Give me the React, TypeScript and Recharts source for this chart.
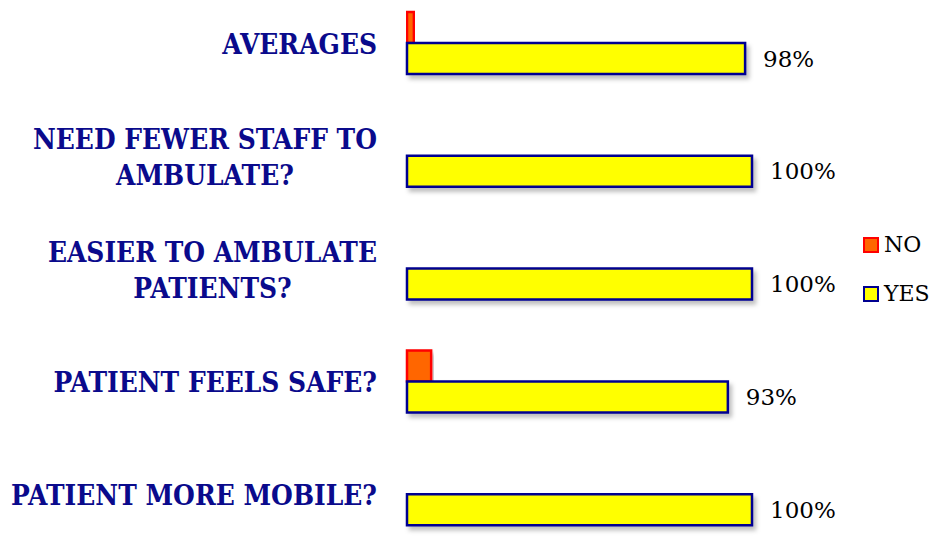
import React from "react";
import { BarChart, Bar, XAxis, YAxis, LabelList } from "recharts";

const categories = [
  "AVERAGES",
  "NEED FEWER STAFF TO|AMBULATE?",
  "EASIER TO AMBULATE|PATIENTS?",
  "PATIENT FEELS SAFE?",
  "PATIENT MORE MOBILE?",
];
const noValues = [2, 0, 0, 7, 0];
const yesValues = [98, 100, 100, 93, 100];

const data = categories.map((name, i) => ({ name, NO: noValues[i], YES: yesValues[i] }));

const LABEL_SIZE = 25;
const LABEL_FONT = `bold ${LABEL_SIZE}px 'DejaVu Serif'`;
const NAVY = "#0a0a8c";

let ctx: CanvasRenderingContext2D | null = null;
const measure = (s: string) => {
  if (!ctx) ctx = document.createElement("canvas").getContext("2d");
  if (!ctx) return s.length * 16;
  ctx.font = LABEL_FONT;
  return ctx.measureText(s).width;
};

const CategoryTick = (props: any) => {
  const { x, y, payload } = props;
  const lines: string[] = String(payload.value).split("|");
  const w = Math.max(...lines.map(measure));
  const lh = 36;
  const top = y - ((lines.length - 1) * lh) / 2;
  return (
    <g transform={`translate(0 ${y}) scale(1 1.15) translate(0 ${-y})`}>
      <text
        x={x - w / 2}
        y={top}
        textAnchor="middle"
        dominantBaseline="central"
        fill={NAVY}
        fontFamily="'DejaVu Serif', serif"
        fontWeight="bold"
        fontSize={LABEL_SIZE}
      >
        {lines.map((l, i) => (
          <tspan key={i} x={x - w / 2} y={y + (i - (lines.length - 1) / 2) * (lh / 1.15)}>
            {l}
          </tspan>
        ))}
      </text>
    </g>
  );
};

const legendItems = [
  { label: "NO", fill: "#ff6600", stroke: "#ff0000" },
  { label: "YES", fill: "#ffff00", stroke: "#000090" },
];

const ChartLegend = () => (
  <div
    style={{
      position: "absolute",
      left: 863,
      top: 220,
      fontFamily: "'DejaVu Serif', serif",
      fontSize: 22,
    }}
  >
    {legendItems.map((it) => (
      <div key={it.label} style={{ display: "flex", alignItems: "center", height: 49 }}>
        <span
          style={{
            width: 12,
            height: 12,
            background: it.fill,
            border: `2px solid ${it.stroke}`,
            marginRight: 5,
          }}
        />
        <span style={{ color: "#000" }}>{it.label}</span>
      </div>
    ))}
  </div>
);

export default function App() {
  return (
    <div style={{ position: "absolute", left: 0, top: 0, width: 933, height: 548, background: "#fff" }}>
      <BarChart
        width={933}
        height={548}
        data={data}
        layout="vertical"
        margin={{ top: -13, right: 181, bottom: -3, left: 0 }}
        barGap={0}
        barSize={31}
      >
        <defs>
          <filter id="shadow" x="-5%" y="-20%" width="115%" height="160%">
            <feDropShadow dx="3" dy="4" stdDeviation="2" floodColor="#000" floodOpacity="0.25" />
          </filter>
        </defs>
        <XAxis type="number" domain={[0, 100]} hide />
        <YAxis
          type="category"
          dataKey="name"
          width={407}
          axisLine={false}
          tickLine={false}
          tickSize={0}
          tickMargin={30}
          tick={<CategoryTick />}
          interval={0}
        />
        <Bar dataKey="NO" fill="#ff6600" stroke="#ff0000" strokeWidth={2.5} filter="url(#shadow)" isAnimationActive={false} />
        <Bar dataKey="YES" fill="#ffff00" stroke="#000090" strokeWidth={2.5} filter="url(#shadow)" isAnimationActive={false}>
          <LabelList
            dataKey="YES"
            position="right"
            offset={18}
            formatter={(v: any) => `${v}%`}
            fill="#000"
            fontSize={23}
            fontFamily="'DejaVu Serif', serif"
          />
        </Bar>
      </BarChart>
      <ChartLegend />
    </div>
  );
}
